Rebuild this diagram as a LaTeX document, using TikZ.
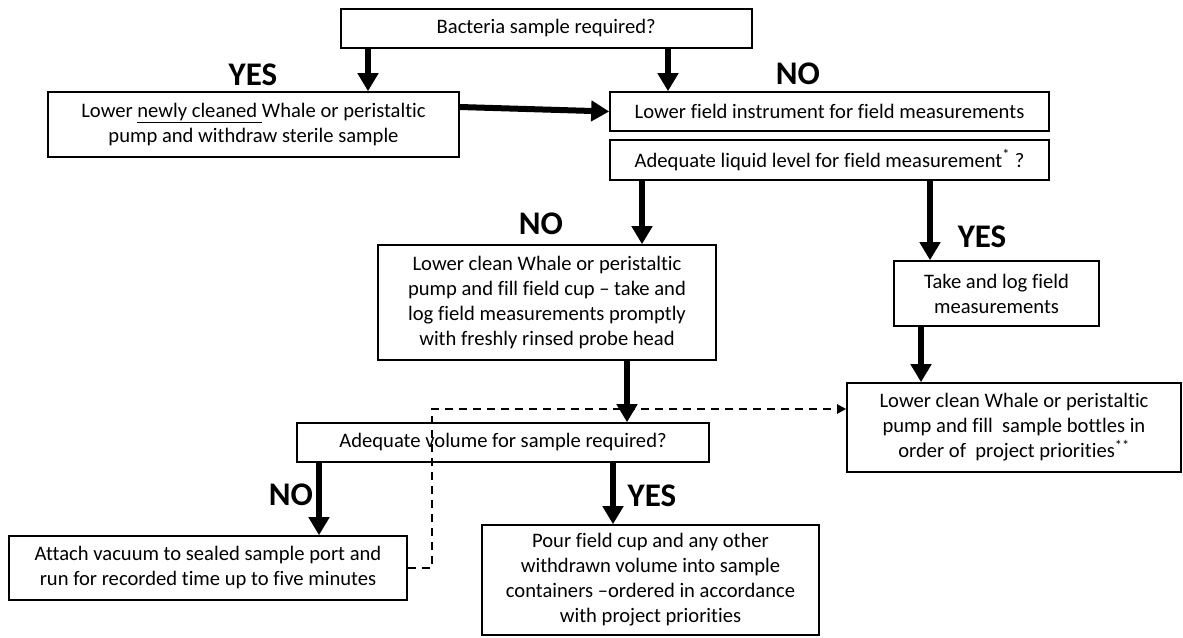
\documentclass[tikz,border=0pt]{standalone}
\usepackage{fontspec}
\setmainfont{Carlito}[Ligatures={TeX,NoCommon}]
\usetikzlibrary{arrows.meta}
\begin{document}
\begin{tikzpicture}[x=1pt,y=-1pt,
  box/.style={draw, line width=1.6pt, inner sep=0pt, align=center,
    font=\fontsize{20.6}{25}\selectfont},
  flow/.style={line width=6pt, -{Triangle[length=18pt,width=20pt]}},
  side/.style={line width=2pt, dash pattern=on 8pt off 6pt,
    -{Triangle[length=9pt,width=9pt]}},
  answer/.style={font=\fontsize{33}{33}\selectfont\bfseries, inner sep=0pt}]
\useasboundingbox (0,0) rectangle (1183,637);

% decision and action boxes
\node[box, minimum width=411pt, minimum height=39pt] (top) at (546.2,28.5)
  {Bacteria sample required?};
\node[box, minimum width=411pt, minimum height=65pt] (steril) at (253.5,124.5)
  {Lower \underline{newly cleaned\ }Whale or peristaltic\\pump and withdraw sterile sample};
\node[box, minimum width=439pt, minimum height=39pt] (instr) at (829.5,111.5)
  {Lower field instrument for field measurements};
\node[box, minimum width=439pt, minimum height=40pt] (level) at (829.5,160)
  {Adequate liquid level for field measurement\textsuperscript{*} ?};
\node[box, minimum width=338pt, minimum height=115pt] (cup) at (547,302.5)
  {Lower clean Whale or peristaltic\\pump and fill field cup – take and\\log field measurements promptly\\with freshly rinsed probe head};
\node[box, minimum width=205pt, minimum height=65pt] (logm) at (996.5,293.5)
  {Take and log field\\measurements};
\node[box, minimum width=412pt, minimum height=39pt] (volume) at (503,442.5)
  {Adequate volume for sample required?};
\node[box, minimum width=334pt, minimum height=89pt] (bottles) at (1014,427.5)
  {Lower clean Whale or peristaltic\\pump and fill\ \ sample bottles in\\order of\ \ project priorities\textsuperscript{**}};
\node[box, minimum width=398pt, minimum height=64pt] (vacuum) at (208,568)
  {Attach vacuum to sealed sample port and\\run for recorded time up to five minutes};
\node[box, minimum width=337pt, minimum height=110pt] (pour) at (650.5,580)
  {Pour field cup and any other\\withdrawn volume into sample\\containers –ordered in accordance\\with project priorities};

% answer labels
\node[answer] (yes1) at (253,74.5) {YES};
\node[answer] (no1) at (798,74) {NO};
\node[answer] (no2) at (541,224) {NO};
\node[answer] (yes2) at (982,237) {YES};
\node[answer] (no3) at (291,495) {NO};
\node[answer] (yes3) at (652,496) {YES};

% x positions of vertical connectors, y positions of horizontal ones
\coordinate (xa) at (368,0);
\coordinate (xb) at (668,0);
\coordinate (xc) at (642,0);
\coordinate (xd) at (930,0);
\coordinate (xe) at (921,0);
\coordinate (xf) at (627,0);
\coordinate (xg) at (319,0);
\coordinate (xh) at (613,0);
\coordinate (xv) at (432,0);
\coordinate (ya) at (0,107);
\coordinate (yv) at (0,409);

% main flow
\draw[flow] (top.south -| xa) -- (steril.north -| xa);
\draw[flow] (top.south -| xb) -- (instr.north -| xb);
\draw[flow] (steril.east |- ya) -- (instr.west);
\draw[flow] (level.south -| xc) -- (cup.north -| xc);
\draw[flow] (level.south -| xd) -- (logm.north -| xd);
\draw[flow] (logm.south -| xe) -- (bottles.north -| xe);
\draw[flow] (cup.south -| xf) -- (volume.north -| xf);
\draw[flow] (volume.south -| xg) -- (vacuum.north -| xg);
\draw[flow] (volume.south -| xh) -- (pour.north -| xh);

% return path after vacuum sampling
\draw[side] (vacuum.east) -- (vacuum.east -| xv) -- (xv |- yv) -- (bottles.west |- yv);
\end{tikzpicture}
\end{document}
